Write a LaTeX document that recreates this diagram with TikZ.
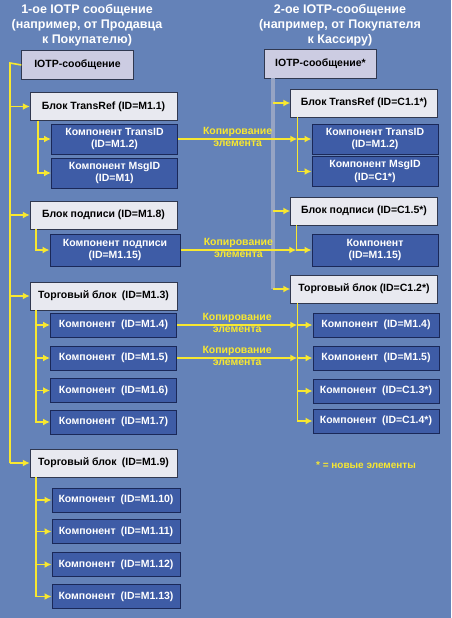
\documentclass[tikz,border=0pt]{standalone}
\usepackage{fontspec}
\setmainfont{Liberation Sans}
\usepackage{tikz}
\usetikzlibrary{arrows.meta, positioning}
\definecolor{iotpbg}{RGB}{100,130,184}
\definecolor{iotpyellow}{RGB}{248,232,48}
\definecolor{iotplav}{RGB}{204,204,226}
\definecolor{iotplight}{RGB}{232,233,240}
\definecolor{iotpline}{RGB}{48,56,80}
\definecolor{iotpcomp}{RGB}{62,92,166}
\definecolor{iotpnavy}{RGB}{26,40,88}
\definecolor{iotpgrey}{RGB}{150,164,196}

\begin{document}
\begin{tikzpicture}[x=1pt, y=-1pt,
    ttl/.style={text=white, align=center, font=\bfseries\fontsize{12.5}{15}\selectfont},
    msg/.style={draw=iotpline, fill=iotplav, minimum width=112pt, minimum height=29pt, font=\bfseries\fontsize{10.5}{12}\selectfont},
    blk/.style={draw=iotpline, fill=iotplight, minimum width=147pt, minimum height=28pt, font=\bfseries\fontsize{10.5}{12}\selectfont},
    comp/.style={draw=iotpnavy, line width=1pt, fill=iotpcomp, text=white, minimum width=126pt, minimum height=24pt, inner sep=2pt, align=center, font=\bfseries\fontsize{10.5}{12.5}\selectfont},
    lbl/.style={text=iotpyellow, inner sep=1.5pt, font=\bfseries\fontsize{10.5}{11}\selectfont},
    bus/.style={iotpyellow, line width=1.6pt},
    arr/.style={-{Latex[length=7pt, width=7pt]}, iotpyellow, line width=1.6pt}
]
    \fill[iotpbg] (0,0) rectangle (451,618);
    \useasboundingbox (0,0) rectangle (451,618);

    % titles
    \node[ttl] (t1) at (87,25) {1-ое IOTP сообщение\\(например, от Продавца\\к Покупателю)};
    \node[ttl] (t2) at (340,25) {2-ое IOTP-сообщение\\(например, от Покупателя\\к Кассиру)};

    % first message
    \node[msg] (m1) at (77.5,65) {IOTP-сообщение};
    \node[blk] (tr1) at (103.5,106.5) {Блок TransRef (ID=M1.1)};
    \node[comp, minimum height=30pt] (tid1) at (114.5,139) {Компонент TransID\\(ID=M1.2)};
    \node[comp, minimum height=30pt] (mid1) at (114.5,173) {Компонент MsgID\\(ID=M1)};
    \node[blk] (sig1) at (103.5,215) {Блок подписи (ID=M1.8)};
    \node[comp, minimum width=130pt, minimum height=32pt] (sc1) at (115,250) {Компонент подписи\\(ID=M1.15)};
    \node[blk] (trd1) at (103.5,296) {Торговый блок\enspace(ID=M1.3)};
    \node[comp] (c4) at (113.5,325) {Компонент\enspace(ID=M1.4)};
    \node[comp] (c5) at (113.5,358) {Компонент\enspace(ID=M1.5)};
    \node[comp] (c6) at (113.5,390.5) {Компонент\enspace(ID=M1.6)};
    \node[comp] (c7) at (113.5,422) {Компонент\enspace(ID=M1.7)};
    \node[blk] (trd9) at (103.5,463) {Торговый блок\enspace(ID=M1.9)};
    \node[comp, minimum width=128pt] (c10) at (116,500) {Компонент\enspace(ID=M1.10)};
    \node[comp, minimum width=128pt] (c11) at (116,531.5) {Компонент\enspace(ID=M1.11)};
    \node[comp, minimum width=128pt] (c12) at (116,564.5) {Компонент\enspace(ID=M1.12)};
    \node[comp, minimum width=128pt] (c13) at (116,596.5) {Компонент\enspace(ID=M1.13)};

    % second message
    \node[msg] (m2) at (320.5,64) {IOTP-сообщение*};
    \node[blk] (tr2) at (364,103) {Блок TransRef (ID=C1.1*)};
    \node[comp, minimum height=30pt] (tid2) at (375,139) {Компонент TransID\\(ID=M1.2)};
    \node[comp, minimum height=30pt] (mid2) at (375,171.5) {Компонент MsgID\\(ID=C1*)};
    \node[blk] (sig2) at (364,211) {Блок подписи (ID=C1.5*)};
    \node[comp, minimum height=32pt] (sc2) at (375,250) {Компонент\\(ID=M1.15)};
    \node[blk] (trd2) at (364,289) {Торговый блок (ID=C1.2*)};
    \node[comp] (r4) at (376,325) {Компонент\enspace(ID=M1.4)};
    \node[comp] (r5) at (376,358) {Компонент\enspace(ID=M1.5)};
    \node[comp] (r3) at (376,391) {Компонент\enspace(ID=C1.3*)};
    \node[comp] (r6) at (376,421) {Компонент\enspace(ID=C1.4*)};

    \node[lbl, font=\bfseries\fontsize{10}{11}\selectfont] (note) at (366,465) {* = новые элементы};

    % buses of the first message
    \coordinate (busL) at (10,63);
    \draw[bus] (m1.west) -- (busL) -- (busL |- trd9.west);
    \foreach \b in {tr1, sig1, trd1, trd9}
        \draw[arr] (busL |- \b.west) -- (\b.west);
    \foreach \c in {tid1, mid1}
        \draw[arr] ([xshift=8pt]tr1.south west) |- (\c.west);
    \draw[arr] ([xshift=6pt]sig1.south west) |- (sc1.west);
    \foreach \c in {c4, c5, c6, c7}
        \draw[arr] ([xshift=6pt]trd1.south west) |- (\c.west);
    \foreach \c in {c10, c11, c12, c13}
        \draw[arr] ([xshift=6pt]trd9.south west) |- (\c.west);

    % buses of the second message
    \coordinate (busR) at (273,78);
    \draw[iotpgrey, line width=4pt] (busR) -- (busR |- trd2.west);
    \foreach \b in {tr2, sig2, trd2}
        \draw[arr] (busR |- \b.west) -- (\b.west);
    \coordinate (subT) at ([xshift=7pt]tr2.south west);
    \coordinate (subS) at ([xshift=6pt]sig2.south west);
    \coordinate (subH) at ([xshift=7pt]trd2.south west);
    \foreach \c in {tid2, mid2}
        \draw[arr] (subT) |- (\c.west);
    \draw[arr] (subS) |- (sc2.west);
    \foreach \c in {r4, r5, r3, r6}
        \draw[arr] (subH) |- (\c.west);

    % copied elements
    \foreach \a/\s in {tid1/subT, sc1/subS, c4/subH, c5/subH}
        \draw[arr] (\a.east) -- (\s |- \a.east)
            node[lbl, above, pos=0.5] {Копирование}
            node[lbl, below, pos=0.5] {элемента};
\end{tikzpicture}
\end{document}
